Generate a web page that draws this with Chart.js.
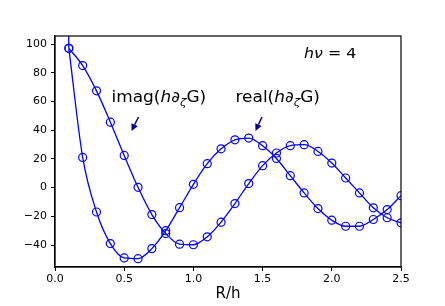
<!DOCTYPE html>
<html>
<head>
<meta charset="utf-8">
<script src="https://cdn.jsdelivr.net/npm/chart.js@4/dist/chart.umd.min.js"></script>
<style>
  html, body { margin: 0; padding: 0; background: #fff; }
  #wrap { width: 445px; height: 306px; }
</style>
</head>
<body>
<div id="wrap"><canvas id="myChart" width="445" height="306"></canvas></div>
<script>
// R/h values, markers every 0.1
const rh = [0.1, 0.2, 0.3, 0.4, 0.5, 0.6, 0.7, 0.8, 0.9, 1.0, 1.1, 1.2, 1.3,
            1.4, 1.5, 1.6, 1.7, 1.8, 1.9, 2.0, 2.1, 2.2, 2.3, 2.4, 2.5]

// real(h dG)
const realY = [97, 21, -17, -39, -49, -49.5, -42.5, -30, -14, 2.3, 16.7, 27,
               33.3, 34.5, 29.2, 20.3, 8.3, -3.7, -14.6, -22.7, -26.9, -26.9,
               -22.2, -15.3, -5.6]

// where the real curve leaves the top of the frame, just left of R/h = 0.1
const realTopX = [0.098, 0.1]
const realTopY = [115, 97]

// imag(h dG)
const imagY = [97, 85, 67.4, 45.6, 22.4, 0.2, -18.8, -32, -39.4, -39.8, -34.3,
               -24.1, -11.1, 2.8, 15.3, 24.1, 29.2, 29.9, 25.2, 17.1, 6.7, -3.7,
               -14.1, -21, -24.5]

const xTicks = [0, 0.5, 1.0, 1.5, 2.0, 2.5]
const yTicks = [-40, -20, 0, 20, 40, 60, 80, 100]

const blue = '#0000ff'
const font = 'DejaVu Sans'

function toPoints(xs, ys) {
  return xs.map((x, i) => ({ x: x, y: ys[i] }))
}

// text in the picture is a bit wider than it is tall, so stretch it
function drawMath(ctx, x, y, parts, sx) {
  ctx.save()
  ctx.translate(x, y)
  ctx.scale(sx, 1)
  ctx.fillStyle = '#000'
  ctx.textBaseline = 'alphabetic'
  ctx.textAlign = 'left'
  let cx = 0
  for (const p of parts) {
    ctx.font = p.f
    ctx.fillText(p.t, cx, p.dy || 0)
    cx += ctx.measureText(p.t).width
  }
  ctx.restore()
}

function drawArrow(ctx, x0, y0, x1, y1) {
  const ang = Math.atan2(y1 - y0, x1 - x0)
  const hl = 7, hw = 3.5
  const bx = x1 - hl * Math.cos(ang), by = y1 - hl * Math.sin(ang)
  ctx.save()
  ctx.strokeStyle = '#00008b'
  ctx.fillStyle = '#00008b'
  ctx.lineWidth = 1.5
  ctx.beginPath()
  ctx.moveTo(x0, y0)
  ctx.lineTo(bx, by)
  ctx.stroke()
  ctx.beginPath()
  ctx.moveTo(x1, y1)
  ctx.lineTo(bx + hw * Math.sin(ang), by - hw * Math.cos(ang))
  ctx.lineTo(bx - hw * Math.sin(ang), by + hw * Math.cos(ang))
  ctx.closePath()
  ctx.fill()
  ctx.restore()
}

const decorations = {
  id: 'decorations',
  afterDraw(chart) {
    const ctx = chart.ctx
    const a = chart.chartArea
    // frame
    ctx.save()
    ctx.strokeStyle = '#000'
    ctx.lineWidth = 1.2
    ctx.strokeRect(a.left, a.top, a.right - a.left, a.bottom - a.top)
    ctx.restore()

    // x label
    ctx.save()
    ctx.fillStyle = '#000'
    ctx.font = '15px ' + font
    ctx.textAlign = 'center'
    ctx.textBaseline = 'alphabetic'
    ctx.fillText('R/h', (a.left + a.right) / 2, 298)
    ctx.restore()

    drawMath(ctx, 304, 58, [
      { t: 'hν', f: 'italic 14px ' + font },
      { t: ' = 4', f: '14px ' + font }
    ], 1.13)
    drawMath(ctx, 111.5, 102, [
      { t: 'imag(', f: '15px ' + font },
      { t: 'h∂', f: 'italic 15px ' + font },
      { t: 'ζ', f: 'italic 10.5px ' + font, dy: 3.5 },
      { t: 'G)', f: '15px ' + font }
    ], 1.13)
    drawMath(ctx, 235.5, 102, [
      { t: 'real(', f: '15px ' + font },
      { t: 'h∂', f: 'italic 15px ' + font },
      { t: 'ζ', f: 'italic 10.5px ' + font, dy: 3.5 },
      { t: 'G)', f: '15px ' + font }
    ], 1.13)
    drawArrow(ctx, 138.5, 117, 131.5, 131)
    drawArrow(ctx, 262, 117, 255.5, 131)
  }
}

function series(label, xs, ys, radius) {
  return {
    label: label,
    data: toPoints(xs, ys),
    borderColor: blue,
    borderWidth: 1.3,
    backgroundColor: 'rgba(0,0,0,0)',
    pointRadius: radius,
    pointBorderColor: blue,
    pointBorderWidth: 1.2,
    pointBackgroundColor: 'rgba(0,0,0,0)',
    cubicInterpolationMode: 'monotone',
    fill: false
  }
}

const ctx = document.getElementById('myChart').getContext('2d')
const myChart = new Chart(ctx, {
  type: 'line',
  data: {
    datasets: [
      series('real', rh, realY, 4),
      series('real top', realTopX, realTopY, 0),
      series('imag', rh, imagY, 4)
    ]
  },
  options: {
    responsive: false,
    animation: false,
    devicePixelRatio: 1,
    layout: { padding: { top: 36, right: 44, left: 0, bottom: 0 } },
    plugins: {
      legend: { display: false },
      tooltip: { enabled: false }
    },
    scales: {
      x: {
        type: 'linear',
        min: 0,
        max: 2.5,
        afterBuildTicks: s => { s.ticks = xTicks.map(v => ({ value: v })) },
        afterFit: s => { s.height = 39 },
        grid: { display: true, drawOnChartArea: false, drawTicks: true, tickLength: 4, color: '#000', lineWidth: 1 },
        border: { display: true, color: '#000', width: 1.2 },
        ticks: {
          color: '#000',
          padding: 2,
          maxRotation: 0,
          font: { family: font, size: 11 },
          callback: v => v.toFixed(1)
        }
      },
      y: {
        type: 'linear',
        min: -55.3,
        max: 105.6,
        afterBuildTicks: s => { s.ticks = yTicks.map(v => ({ value: v })) },
        afterFit: s => { s.width = 55 },
        grid: { display: true, drawOnChartArea: false, drawTicks: true, tickLength: 4, color: '#000', lineWidth: 1 },
        border: { display: true, color: '#000', width: 1.2 },
        ticks: {
          color: '#000',
          padding: 4,
          font: { family: font, size: 11 },
          callback: v => String(v).replace('-', '\u2212')
        }
      }
    }
  },
  plugins: [decorations]
})
</script>
</body>
</html>
